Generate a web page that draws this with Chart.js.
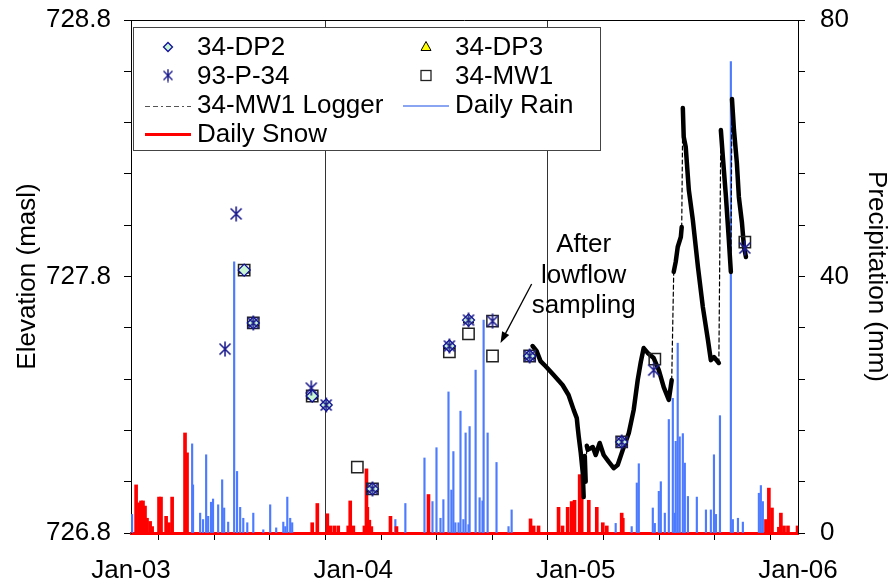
<!DOCTYPE html>
<html lang="en">
<head>
<meta charset="UTF-8">
<title>34-MW1 water levels and precipitation</title>
<script src="https://cdn.jsdelivr.net/npm/chart.js"></script>
<style>
  body { margin: 0; background: #fff; }
  #wrap { width: 892px; height: 587px; }
</style>
</head>
<body>
<div id="wrap"><canvas id="chart" width="892" height="587"></canvas></div>
<script>
  // x values are decimal years, elevations in masl, precipitation in mm
  const dp2 = [[2003.509, 727.825], [2003.550, 727.619], [2003.815, 727.334], [2003.878, 727.299],
    [2004.086, 726.972], [2004.432, 727.529], [2004.518, 727.630], [2004.793, 727.490], [2005.207, 727.155]];
  const dp3 = [[2003.509, 727.825], [2003.550, 727.619], [2003.815, 727.334],
    [2004.086, 726.972], [2004.432, 727.529], [2004.518, 727.630], [2004.793, 727.490], [2005.207, 727.155]];
  const p34 = [[2003.423, 727.517], [2003.473, 728.044], [2003.550, 727.619], [2003.811, 727.365], [2003.878, 727.299],
    [2004.086, 726.972], [2004.432, 727.529], [2004.518, 727.630], [2004.626, 727.626], [2004.793, 727.490],
    [2005.207, 727.155], [2005.351, 727.435], [2005.761, 727.911]];
  const mw1 = [[2003.509, 727.825], [2003.550, 727.619], [2003.815, 727.334], [2004.018, 727.057],
    [2004.086, 726.972], [2004.432, 727.506], [2004.518, 727.576], [2004.626, 727.626], [2004.626, 727.490],
    [2004.793, 727.490], [2005.207, 727.155], [2005.356, 727.478], [2005.761, 727.934]];

  const logger = [[2004.806, 727.529], [2004.824, 727.510], [2004.842, 727.470], [2004.865, 727.450],
    [2004.901, 727.416], [2004.941, 727.377], [2004.968, 727.338], [2004.991, 727.280], [2005.005, 727.248],
    [2005.009, 727.213], [2005.014, 727.174], [2005.023, 727.112], [2005.032, 727.034], [2005.036, 726.940],
    [2005.041, 727.100], [2005.045, 727.000], [2005.050, 727.140], [2005.054, 727.124], [2005.077, 727.135],
    [2005.090, 727.104], [2005.108, 727.151], [2005.126, 727.104], [2005.149, 727.077], [2005.171, 727.053],
    [2005.189, 727.065], [2005.212, 727.124], [2005.239, 727.190], [2005.261, 727.280], [2005.279, 727.396],
    [2005.293, 727.467], [2005.306, 727.521], [2005.324, 727.502], [2005.351, 727.482], [2005.374, 727.435],
    [2005.396, 727.369], [2005.419, 727.319], [2005.432, 727.396], [2005.441, 727.818], [2005.450, 727.857],
    [2005.459, 727.915], [2005.473, 727.954], [2005.477, 727.993], [2005.482, 728.457], [2005.486, 728.344],
    [2005.495, 728.305], [2005.509, 728.137], [2005.527, 728.020], [2005.550, 727.837], [2005.572, 727.681],
    [2005.595, 727.552], [2005.608, 727.474], [2005.622, 727.486], [2005.644, 727.463], [2005.653, 728.371],
    [2005.662, 728.266], [2005.676, 728.110], [2005.689, 727.942], [2005.698, 727.818], [2005.703, 728.492],
    [2005.712, 728.371], [2005.725, 728.243], [2005.734, 728.110], [2005.748, 728.009], [2005.757, 727.915],
    [2005.766, 727.876]];

  const rain = [[2003.005, 2.9], [2003.275, 13.9], [2003.279, 7.5], [2003.311, 3.1], [2003.324, 2.1], [2003.338, 12.2],
    [2003.347, 2.6], [2003.360, 4.8], [2003.369, 5.3], [2003.392, 4.4], [2003.410, 8.3], [2003.419, 3.9],
    [2003.437, 1.7], [2003.464, 42.3], [2003.477, 9.6], [2003.491, 4.0], [2003.505, 2.3], [2003.523, 1.6],
    [2003.550, 3.1], [2003.595, 0.5], [2003.626, 4.4], [2003.653, 0.8], [2003.685, 1.7], [2003.694, 1.0],
    [2003.703, 5.6], [2003.716, 2.3], [2003.725, 1.6],
    [2004.189, 2.1], [2004.234, 4.6], [2004.320, 11.7], [2004.356, 4.9], [2004.374, 13.3], [2004.392, 2.3],
    [2004.405, 5.2], [2004.428, 22.0], [2004.441, 6.7], [2004.450, 12.7], [2004.459, 1.6], [2004.473, 1.6],
    [2004.482, 19.0], [2004.495, 2.1], [2004.505, 15.6], [2004.518, 1.3], [2004.523, 16.6], [2004.550, 25.4],
    [2004.568, 5.5], [2004.581, 5.0], [2004.586, 33.2], [2004.604, 15.6], [2004.644, 11.0], [2004.698, 1.0],
    [2004.712, 3.6],
    [2005.180, 1.5], [2005.252, 1.0], [2005.275, 7.8], [2005.284, 10.8], [2005.347, 3.9], [2005.356, 1.5],
    [2005.374, 6.5], [2005.383, 8.0], [2005.401, 3.1], [2005.419, 17.7], [2005.437, 21.0], [2005.446, 3.1],
    [2005.450, 14.3], [2005.459, 29.6], [2005.468, 15.0], [2005.482, 15.5], [2005.491, 10.9], [2005.505, 5.7],
    [2005.545, 5.6], [2005.586, 3.6], [2005.608, 3.6], [2005.622, 12.2], [2005.631, 2.9], [2005.649, 18.3],
    [2005.698, 73.5], [2005.707, 2.1], [2005.730, 2.3], [2005.752, 1.7], [2005.824, 6.2], [2005.833, 7.4],
    [2005.842, 4.9]];

  const snow = [[2003.023, 7.5], [2003.036, 4.7], [2003.045, 5.0], [2003.054, 5.0], [2003.063, 4.2], [2003.072, 2.3],
    [2003.086, 1.8], [2003.095, 1.0], [2003.126, 5.6], [2003.135, 5.6], [2003.158, 2.6], [2003.171, 1.6],
    [2003.185, 5.6], [2003.243, 15.6], [2003.252, 12.5], [2003.815, 1.6], [2003.838, 4.6], [2003.883, 3.0],
    [2003.896, 1.1], [2003.914, 1.1], [2003.932, 1.1], [2003.977, 1.1], [2003.986, 5.0], [2004.000, 1.1],
    [2004.050, 1.1], [2004.059, 10.0], [2004.063, 4.0], [2004.072, 2.0], [2004.081, 1.0], [2004.167, 2.6],
    [2004.194, 1.0], [2004.338, 6.0], [2004.797, 2.2], [2004.811, 1.1], [2004.833, 1.1], [2004.923, 4.0],
    [2004.941, 1.1], [2004.964, 4.0], [2004.982, 4.9], [2004.995, 5.1], [2005.018, 9.1], [2005.027, 6.8],
    [2005.059, 5.1], [2005.095, 4.0], [2005.122, 1.6], [2005.140, 1.1], [2005.207, 3.1], [2005.212, 2.3],
    [2005.856, 2.1], [2005.869, 7.0], [2005.883, 3.9], [2005.914, 0.9], [2005.923, 3.1], [2005.937, 1.1],
    [2005.955, 1.1], [2005.998, 1.1]];

  const xTickValues = [2003, 2003.25, 2003.5, 2003.75, 2004, 2004.25, 2004.5, 2004.75, 2005, 2005.25, 2005.5, 2005.75, 2006];
  const xTickLabels = ['Jan-03', '', '', '', 'Jan-04', '', '', '', 'Jan-05', '', '', '', 'Jan-06'];
  const elevTickValues = [726.8, 727.0, 727.2, 727.4, 727.6, 727.8, 728.0, 728.2, 728.4, 728.6, 728.8];
  const elevTickLabels = ['726.8', '', '', '', '', '727.8', '', '', '', '', '728.8'];
  const precipTickValues = [0, 8, 16, 24, 32, 40, 48, 56, 64, 72, 80];
  const precipTickLabels = ['0', '', '', '', '', '40', '', '', '', '', '80'];
  const yearLines = [2004, 2005];

  // note: text lines and arrow (tail -> head) in data units
  const noteLines = ['After', 'lowflow', 'sampling'];
  const noteAnchor = [2005.036, 727.923];
  const noteArrow = [[2004.802, 727.771], [2004.662, 727.541]];

  const toXY = arr => arr.map(p => ({ x: p[0], y: p[1] }));

  const FONT = "'Liberation Sans', Arial, sans-serif";
  const FS = 26;
  Chart.defaults.font.family = FONT;
  Chart.defaults.font.size = FS;
  Chart.defaults.color = '#000';

  const STAR_COLOR = '#1c1c8e';
  function makeStar(w, h, lw) {
    const c = document.createElement('canvas');
    c.width = w; c.height = h;
    const g = c.getContext('2d');
    g.strokeStyle = STAR_COLOR;
    g.lineWidth = lw;
    g.beginPath();
    g.moveTo(1.5, 2.5); g.lineTo(w - 1.5, h - 2.5);
    g.moveTo(w - 1.5, 2.5); g.lineTo(1.5, h - 2.5);
    g.moveTo(w / 2, 0.5); g.lineTo(w / 2, h - 0.5);
    g.stroke();
    return c;
  }
  const starImg = makeStar(14, 16, 1.6);
  const starLegend = makeStar(12, 14, 1.4);

  // logger gaps: near-vertical upward jumps are drawn thin and dashed
  function isJump(ctx) {
    const dx = Math.abs(ctx.p1.x - ctx.p0.x);
    const dy = ctx.p1.y - ctx.p0.y;
    return dx < 2.5 && dy < -25;
  }

  // top border of the frame
  const framePlugin = {
    id: 'frame',
    afterDraw(chart) {
      const { ctx, chartArea: a } = chart;
      ctx.save();
      ctx.strokeStyle = '#000';
      ctx.lineWidth = 1;
      ctx.beginPath();
      ctx.moveTo(a.left, a.top + 0.5);
      ctx.lineTo(a.right, a.top + 0.5);
      ctx.stroke();
      ctx.restore();
    }
  };

  const notePlugin = {
    id: 'note',
    afterDatasetsDraw(chart) {
      const { ctx, scales: { x, y } } = chart;
      ctx.save();
      ctx.fillStyle = '#000';
      ctx.font = FS + 'px ' + FONT;
      ctx.textAlign = 'center';
      ctx.textBaseline = 'middle';
      const cx = x.getPixelForValue(noteAnchor[0]);
      const cy = y.getPixelForValue(noteAnchor[1]);
      noteLines.forEach((t, i) => ctx.fillText(t, cx, cy + i * 30.5));

      const x0 = x.getPixelForValue(noteArrow[0][0]), y0 = y.getPixelForValue(noteArrow[0][1]);
      const x1 = x.getPixelForValue(noteArrow[1][0]), y1 = y.getPixelForValue(noteArrow[1][1]);
      const ang = Math.atan2(y1 - y0, x1 - x0);
      ctx.strokeStyle = '#000';
      ctx.lineWidth = 1.3;
      ctx.beginPath();
      ctx.moveTo(x0, y0);
      ctx.lineTo(x1 - 8 * Math.cos(ang), y1 - 8 * Math.sin(ang));
      ctx.stroke();
      ctx.beginPath();
      ctx.moveTo(x1, y1);
      ctx.lineTo(x1 - 11 * Math.cos(ang) + 4 * Math.sin(ang), y1 - 11 * Math.sin(ang) - 4 * Math.cos(ang));
      ctx.lineTo(x1 - 11 * Math.cos(ang) - 4 * Math.sin(ang), y1 - 11 * Math.sin(ang) + 4 * Math.cos(ang));
      ctx.closePath();
      ctx.fill();
      ctx.restore();
    }
  };

  // boxed two-column legend in the top-left corner of the plot
  const legendPlugin = {
    id: 'boxLegend',
    afterDraw(chart) {
      const { ctx, chartArea: a } = chart;
      const bx = a.left + 2, by = a.top + 7, bw = 467, bh = 123;
      ctx.save();
      ctx.fillStyle = '#fff';
      ctx.fillRect(bx, by, bw, bh);
      ctx.strokeStyle = '#444';
      ctx.lineWidth = 1;
      ctx.strokeRect(bx + 0.5, by + 0.5, bw, bh);

      const rows = [by + 20, by + 48.5, by + 78, by + 106.5];
      const col = [bx, bx + 258];
      ctx.font = FS + 'px ' + FONT;
      ctx.fillStyle = '#000';
      ctx.textBaseline = 'middle';
      const txt = (t, c, r) => ctx.fillText(t, col[c] + 64, rows[r] + 1);

      // 34-DP2 diamond
      let sx = col[0] + 35, sy = rows[0];
      ctx.beginPath();
      ctx.moveTo(sx, sy - 4.5); ctx.lineTo(sx + 4.5, sy); ctx.lineTo(sx, sy + 4.5); ctx.lineTo(sx - 4.5, sy); ctx.closePath();
      ctx.fillStyle = '#c8f5d2'; ctx.fill();
      ctx.strokeStyle = '#10109a'; ctx.lineWidth = 1.3; ctx.stroke();
      ctx.fillStyle = '#000'; txt('34-DP2', 0, 0);

      // 34-DP3 triangle
      sx = col[1] + 35; sy = rows[0];
      ctx.beginPath();
      ctx.moveTo(sx, sy - 5.5); ctx.lineTo(sx + 5, sy + 3.5); ctx.lineTo(sx - 5, sy + 3.5); ctx.closePath();
      ctx.fillStyle = '#ffff00'; ctx.fill();
      ctx.strokeStyle = '#000'; ctx.lineWidth = 1; ctx.stroke();
      ctx.fillStyle = '#000'; txt('34-DP3', 1, 0);

      // 93-P-34 asterisk
      ctx.drawImage(starLegend, col[0] + 35 - 6, rows[1] - 7);
      txt('93-P-34', 0, 1);

      // 34-MW1 square
      ctx.strokeStyle = '#222'; ctx.lineWidth = 1.3;
      ctx.strokeRect(col[1] + 35 - 5, rows[1] - 5, 10, 10);
      txt('34-MW1', 1, 1);

      // logger line
      ctx.strokeStyle = '#555'; ctx.lineWidth = 1;
      ctx.setLineDash([5, 3, 5, 3, 2, 3]);
      ctx.beginPath(); ctx.moveTo(col[0] + 12, rows[2] + 1.5); ctx.lineTo(col[0] + 58, rows[2] + 1.5); ctx.stroke();
      ctx.setLineDash([]);
      txt('34-MW1 Logger', 0, 2);

      // rain line
      ctx.strokeStyle = '#8aa6f2'; ctx.lineWidth = 2;
      ctx.beginPath(); ctx.moveTo(col[1] + 12, rows[2] + 1); ctx.lineTo(col[1] + 58, rows[2] + 1); ctx.stroke();
      txt('Daily Rain', 1, 2);

      // snow line
      ctx.strokeStyle = '#ff0000'; ctx.lineWidth = 3;
      ctx.beginPath(); ctx.moveTo(col[0] + 12, rows[3] + 1); ctx.lineTo(col[0] + 58, rows[3] + 1); ctx.stroke();
      txt('Daily Snow', 0, 3);
      ctx.restore();
    }
  };

  const fixedTicks = (values) => (scale) => { scale.ticks = values.map(v => ({ value: v })); };
  // fixed axis sizes so the plot area lands at 131..798 x 20..533
  const fixY = (w) => (s) => { s.width = w; s.paddingTop = 20; s.paddingBottom = 0; };

  new Chart(document.getElementById('chart'), {
    type: 'scatter',
    data: {
      datasets: [
        {
          label: '93-P-34', data: toXY(p34), pointStyle: starImg, pointRadius: 7,
          yAxisID: 'y', order: 1
        },
        {
          label: '34-DP2', data: toXY(dp2), pointStyle: 'rectRot', pointRadius: 6,
          pointBackgroundColor: '#c8f5d2', pointBorderColor: '#10109a', pointBorderWidth: 1.3,
          yAxisID: 'y', order: 2
        },
        {
          label: '34-DP3', data: toXY(dp3), pointStyle: 'triangle', pointRadius: 6,
          pointBackgroundColor: '#ffff00', pointBorderColor: '#000', pointBorderWidth: 1,
          yAxisID: 'y', order: 3
        },
        {
          label: '34-MW1', data: toXY(mw1), pointStyle: 'rect', pointRadius: 8,
          pointBackgroundColor: 'rgba(0,0,0,0)', pointBorderColor: '#222', pointBorderWidth: 1.5,
          yAxisID: 'y', order: 4
        },
        {
          type: 'line', label: '34-MW1 Logger', data: toXY(logger), showLine: true,
          borderColor: '#000', borderWidth: 4.5, pointRadius: 0, tension: 0,
          borderJoinStyle: 'round', borderCapStyle: 'round',
          segment: {
            borderWidth: ctx => isJump(ctx) ? 1.2 : 4.5,
            borderDash: ctx => isJump(ctx) ? [4, 3] : []
          },
          yAxisID: 'y', order: 5
        },
        {
          type: 'bar', label: 'Daily Snow', data: toXY(snow), backgroundColor: '#ff0000',
          barThickness: 3, grouped: false, yAxisID: 'y2', order: 6
        },
        {
          type: 'bar', label: 'Daily Rain', data: toXY(rain), backgroundColor: '#4d7bff',
          barThickness: 1.5, grouped: false, yAxisID: 'y2', order: 7
        }
      ]
    },
    options: {
      responsive: false,
      animation: false,
      devicePixelRatio: 1,
      layout: { padding: 0 },
      plugins: { legend: { display: false }, tooltip: { enabled: false } },
      scales: {
        x: {
          type: 'linear', position: 'bottom', min: 2003, max: 2006, offset: false,
          afterBuildTicks: fixedTicks(xTickValues),
          afterFit: s => { s.height = 54; },
          ticks: { autoSkip: false, maxRotation: 0, padding: 15, callback: (v, i) => xTickLabels[i] },
          grid: {
            color: ctx => (ctx.tick && yearLines.includes(ctx.tick.value)) ? '#333' : 'rgba(0,0,0,0)',
            tickColor: '#000', tickLength: 7, lineWidth: 1
          },
          border: { color: '#ff0000', width: 3 }
        },
        y: {
          type: 'linear', position: 'left', min: 726.8, max: 728.8,
          afterBuildTicks: fixedTicks(elevTickValues),
          afterFit: fixY(131),
          ticks: { autoSkip: false, padding: 13, callback: (v, i) => elevTickLabels[i] },
          grid: { drawOnChartArea: false, tickColor: '#000', tickLength: 7 },
          border: { color: '#000', width: 1 },
          title: { display: true, text: 'Elevation (masl)', font: { size: FS }, padding: { top: 12, bottom: 0 } }
        },
        y2: {
          type: 'linear', position: 'right', min: 0, max: 80,
          afterBuildTicks: fixedTicks(precipTickValues),
          afterFit: fixY(94),
          ticks: { autoSkip: false, padding: 15, callback: (v, i) => precipTickLabels[i] },
          grid: { drawOnChartArea: false, tickColor: '#000', tickLength: 7 },
          border: { color: '#000', width: 1 },
          title: { display: true, text: 'Precipitation (mm)', font: { size: FS }, padding: { top: 0, bottom: 0 } }
        }
      }
    },
    plugins: [framePlugin, notePlugin, legendPlugin]
  });
</script>
</body>
</html>
